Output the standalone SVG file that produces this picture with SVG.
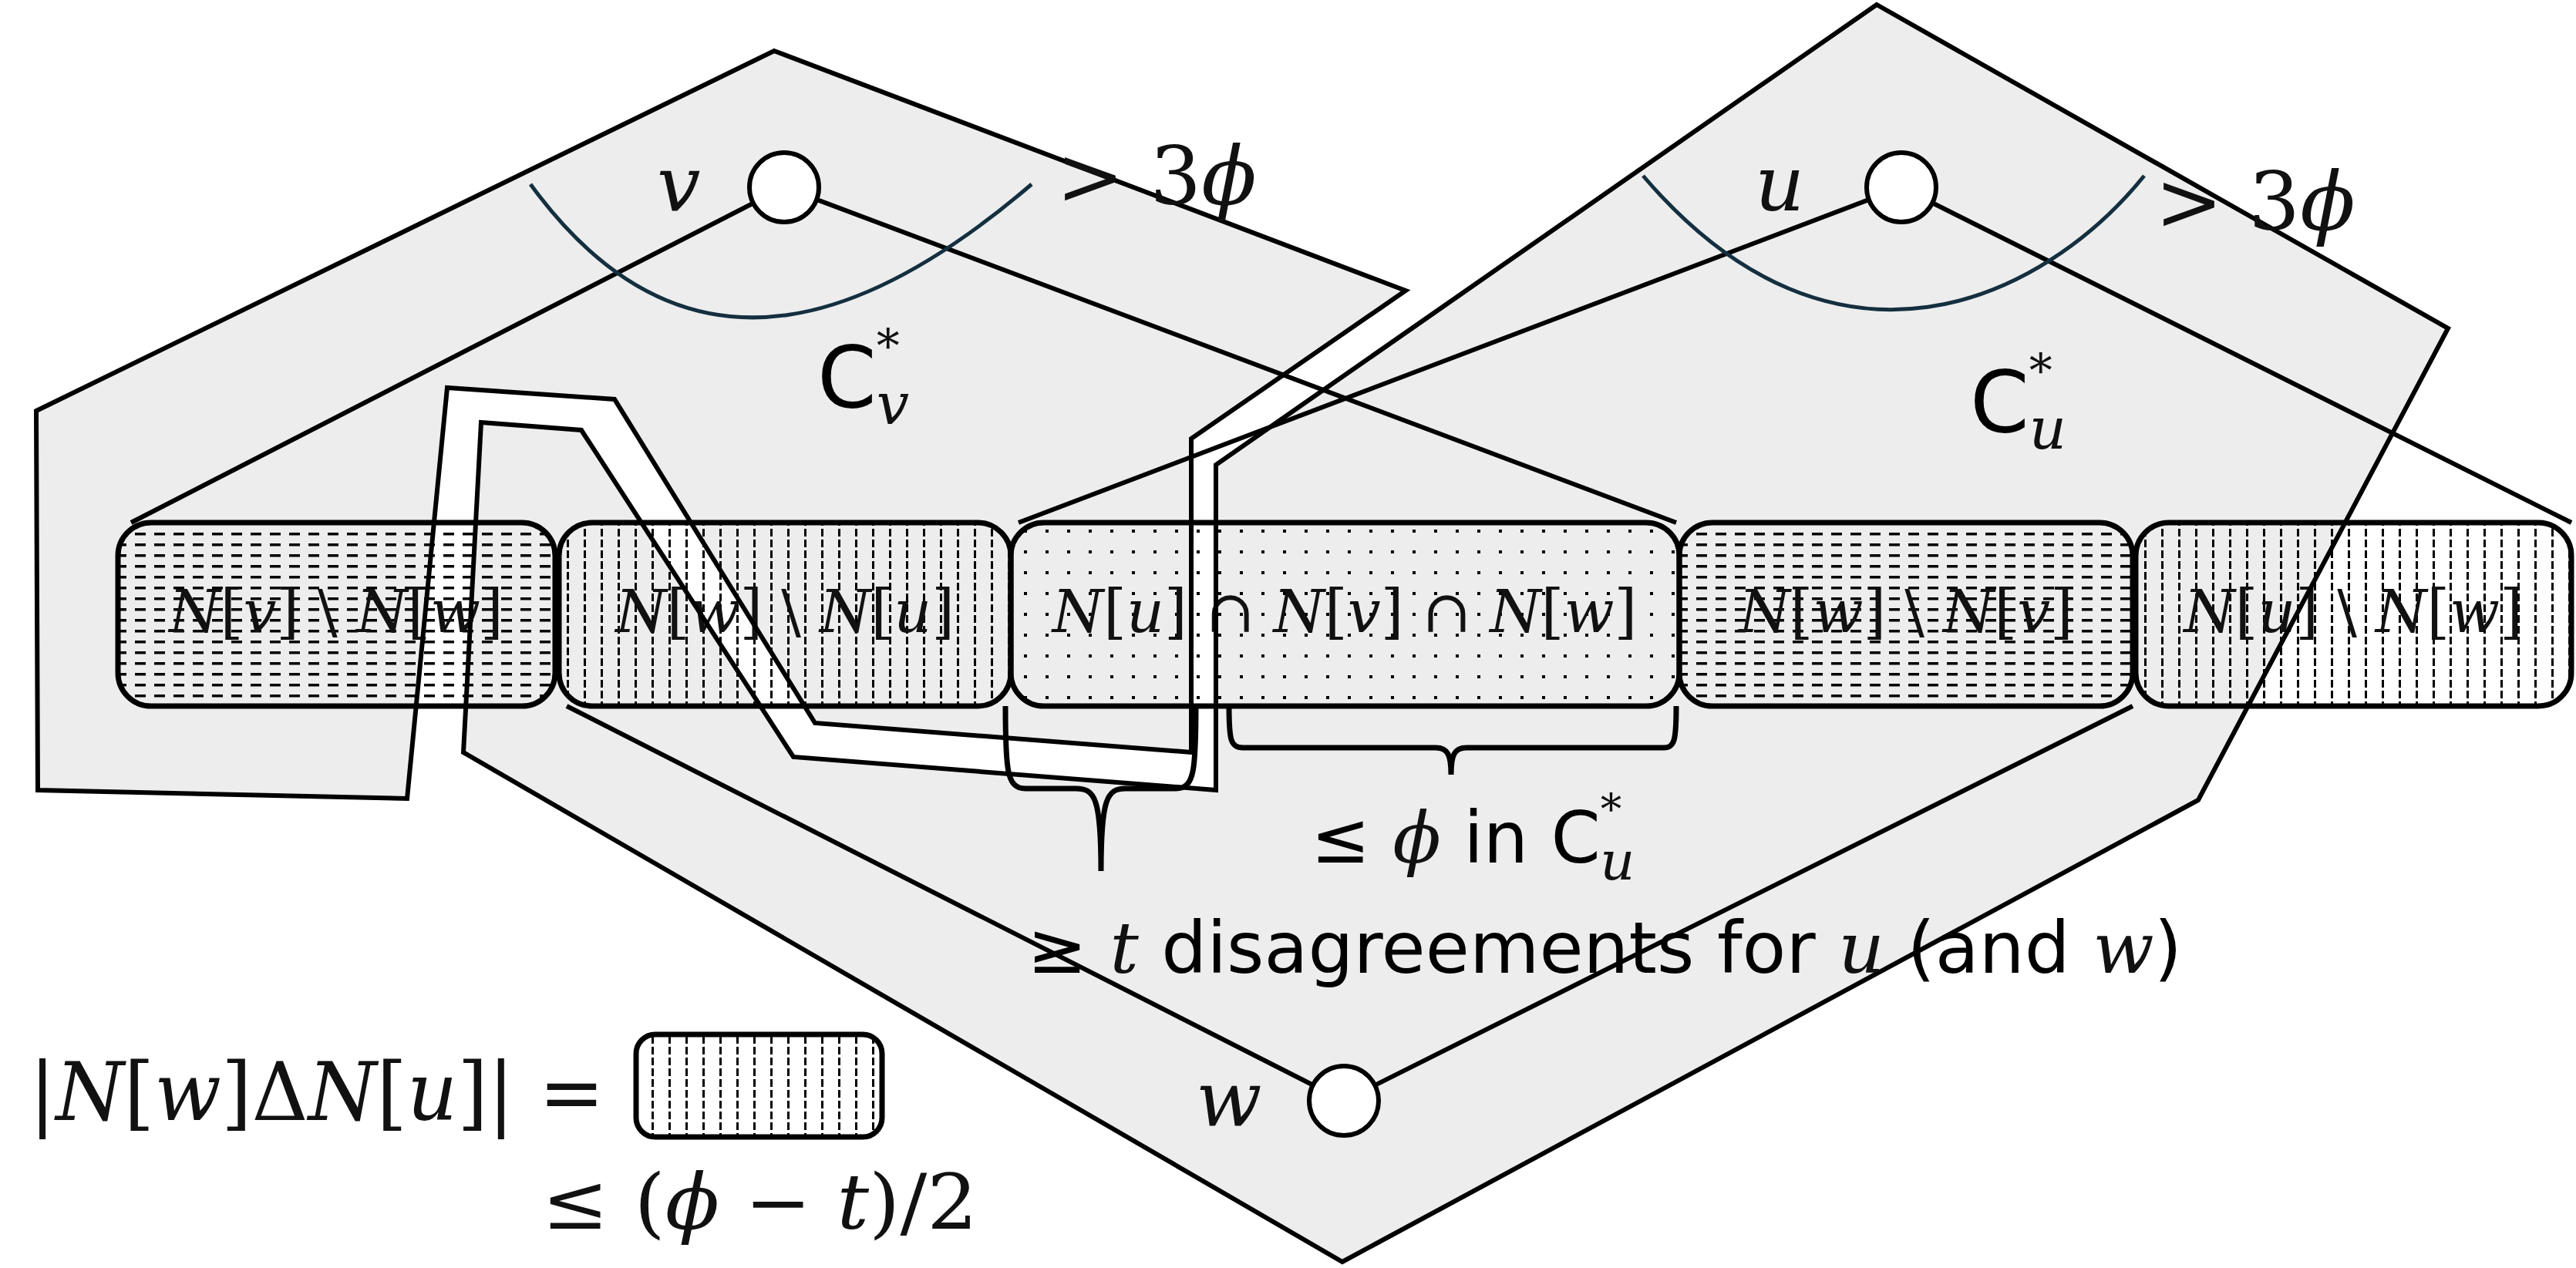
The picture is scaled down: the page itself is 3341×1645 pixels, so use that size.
<svg xmlns="http://www.w3.org/2000/svg" width="3341" height="1645" viewBox="0 0 3341 1645">
<style>
.reg{fill:#ededed;stroke:none}
.out{fill:none;stroke:#000;stroke-width:6;stroke-linejoin:miter}
.edge{stroke:#000;stroke-width:6;fill:none}
.box{stroke:#000;stroke-width:7}
.node{fill:#fff;stroke:#000;stroke-width:6}
.curve{fill:none;stroke:#142f3f;stroke-width:5}
.brace{fill:none;stroke:#000;stroke-width:7}
.m{font-family:"DejaVu Serif","Liberation Serif",serif;fill:#111}
.i{font-style:italic}
.s{font-family:"DejaVu Sans","Liberation Sans",sans-serif;fill:#000}
.lbl{font-size:76px}
</style>
<defs>
<pattern id="ph" width="25" height="14" patternUnits="userSpaceOnUse"><rect x="0" y="5" width="14" height="3.5" fill="#000"/></pattern>
<pattern id="pv" width="22" height="14" patternUnits="userSpaceOnUse"><rect x="9" y="0" width="3" height="10" fill="#000"/></pattern>
<pattern id="pd" width="28" height="27" patternUnits="userSpaceOnUse"><rect x="12" y="12" width="4" height="4" fill="#000"/></pattern>
</defs>
<g id="regions">
<polygon id="Cv-fill" class="reg" points="47,533 1004,66 1823,377 1545,569 1545,976 1057,938 797,518 580,503 528,1036 49,1025"/>
<polygon id="Cu-fill" class="reg" points="2434,6 3175,426 2851,1038 1741,1637 601,976 624,548 754,558 1029,982 1577,1025 1577,603"/>
</g>
<g id="boxes">
<g id="box-vw"><rect class="box" x="153" y="678" width="567" height="238" rx="43" fill="url(#ph)"/><text class="m lbl" x="436" y="820" text-anchor="middle"><tspan class="i">N</tspan>[<tspan class="i">v</tspan>] \ <tspan class="i">N</tspan>[<tspan class="i">w</tspan>]</text></g>
<g id="box-wu"><rect class="box" x="725" y="678" width="586" height="238" rx="43" fill="url(#pv)"/><text class="m lbl" x="1018" y="820" text-anchor="middle"><tspan class="i">N</tspan>[<tspan class="i">w</tspan>] \ <tspan class="i">N</tspan>[<tspan class="i">u</tspan>]</text></g>
<g id="box-uvw"><rect class="box" x="1311" y="678" width="867" height="238" rx="43" fill="url(#pd)"/><text class="m lbl" x="1744" y="820" text-anchor="middle"><tspan class="i">N</tspan>[<tspan class="i">u</tspan>] ∩ <tspan class="i">N</tspan>[<tspan class="i">v</tspan>] ∩ <tspan class="i">N</tspan>[<tspan class="i">w</tspan>]</text></g>
<g id="box-wv"><rect class="box" x="2178" y="678" width="588" height="238" rx="43" fill="url(#ph)"/><text class="m lbl" x="2472" y="820" text-anchor="middle"><tspan class="i">N</tspan>[<tspan class="i">w</tspan>] \ <tspan class="i">N</tspan>[<tspan class="i">v</tspan>]</text></g>
<g id="box-uw"><rect class="box" x="2770" y="678" width="565" height="238" rx="43" fill="url(#pv)"/><text class="m lbl" x="3052" y="820" text-anchor="middle"><tspan class="i">N</tspan>[<tspan class="i">u</tspan>] \ <tspan class="i">N</tspan>[<tspan class="i">w</tspan>]</text></g>
</g>
<g id="outlines">
<polygon class="out" points="47,533 1004,66 1823,377 1545,569 1545,976 1057,938 797,518 580,503 528,1036 49,1025"/>
<polygon class="out" points="2434,6 3175,426 2851,1038 1741,1637 601,976 624,548 754,558 1029,982 1577,1025 1577,603"/>
</g>
<g id="connectors">
<line class="edge" x1="1017" y1="243" x2="170" y2="678"/>
<line class="edge" x1="1017" y1="243" x2="2174" y2="678"/>
<line class="edge" x1="2466" y1="243" x2="1321" y2="678"/>
<line class="edge" x1="2466" y1="243" x2="3335" y2="678"/>
<line class="edge" x1="1743" y1="1428" x2="735" y2="916"/>
<line class="edge" x1="1743" y1="1428" x2="2766" y2="916"/>
<path class="curve" d="M688,239 C900,530 1150,400 1338,239"/>
<path class="curve" d="M2131,228 C2380,520 2650,390 2781,228"/>
<path class="brace" d="M1304,916 C1304,1000 1306,1023 1330,1023 L1395,1023 C1420,1023 1428,1035 1428,1130 C1428,1035 1436,1023 1460,1023 L1525,1023 C1549,1023 1551,1000 1551,916"/>
<path class="brace" d="M1594,916 C1594,960 1596,970 1612,970 L1862,970 C1878,970 1882,980 1882,1005 C1882,980 1886,970 1902,970 L2158,970 C2172,970 2174,960 2174,916"/>
</g>
<g id="node-v"><circle class="node" cx="1017" cy="243" r="45"/><text class="m i" x="852" y="273" font-size="100">v</text></g>
<g id="node-u"><circle class="node" cx="2466" cy="243" r="45"/><text class="m i" x="2276" y="273" font-size="100">u</text></g>
<g id="node-w"><circle class="node" cx="1743" cy="1428" r="45"/><text class="m i" x="1551" y="1460" font-size="100">w</text></g>
<g id="labels">
<text class="m" x="1370" y="265" font-size="105">&gt; 3<tspan class="i">ϕ</tspan></text>
<text class="m" x="2795" y="298" font-size="105">&gt; 3<tspan class="i">ϕ</tspan></text>
<text class="s" x="1060" y="528" font-size="110">C<tspan class="m" font-size="60" dy="-58">*</tspan><tspan class="m i" font-size="75" dx="-30" dy="80">v</tspan></text>
<text class="s" x="2555" y="560" font-size="110">C<tspan class="m" font-size="60" dy="-58">*</tspan><tspan class="m i" font-size="75" dx="-30" dy="80">u</tspan></text>
<text class="s" x="1700" y="1119" font-size="92">≤ <tspan class="m i">ϕ</tspan> in C<tspan class="m" font-size="55" dy="-50">*</tspan><tspan class="m i" font-size="70" dx="-28" dy="72">u</tspan></text>
<text class="s" x="1332" y="1262" font-size="92" textLength="1498" lengthAdjust="spacingAndGlyphs">≥ <tspan class="m i">t</tspan> disagreements for <tspan class="m i">u</tspan> (and <tspan class="m i">w</tspan>)</text>
<text class="m" x="38" y="1453" font-size="105" textLength="746" lengthAdjust="spacingAndGlyphs">|<tspan class="i">N</tspan>[<tspan class="i">w</tspan>]Δ<tspan class="i">N</tspan>[<tspan class="i">u</tspan>]| =</text>
<rect id="legend-box" class="box" x="825" y="1342" width="319" height="133" rx="25" fill="url(#pv)"/>
<text class="m" x="703" y="1594" font-size="100" textLength="565" lengthAdjust="spacingAndGlyphs">≤ (<tspan class="i">ϕ</tspan> − <tspan class="i">t</tspan>)/2</text>
</g>
</svg>
